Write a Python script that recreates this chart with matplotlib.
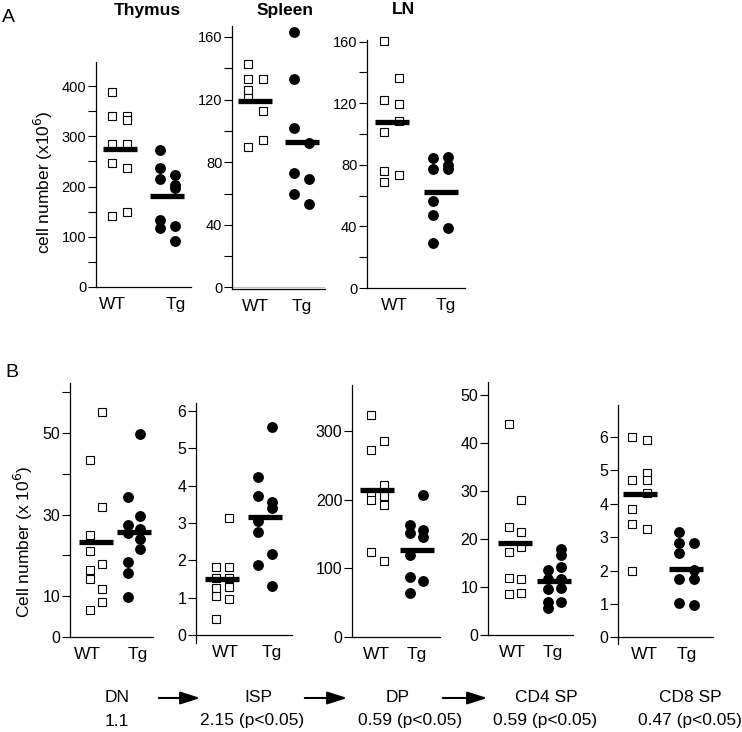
'''
cell number dot plots, panels A and B
'''
import matplotlib
matplotlib.use('Agg')
import matplotlib.pyplot as plt
from matplotlib.ticker import FixedLocator
import numpy as np

plt.rcParams['font.family'] = ['Liberation Sans', 'DejaVu Sans']

# ---- data (two columns of points per group, as drawn) ----
groups = ['WT', 'Tg']

thymus_wt = [[388, 340, 284, 246, 141], [340, 332, 284, 236, 150]]
thymus_tg = [[272, 237, 215, 133, 118], [223, 204, 197, 122, 91]]
thymus_mean = [274, 181]

spleen_wt = [[143, 133, 126, 121, 90], [133, 113, 94]]
spleen_tg = [[163, 133, 102, 73, 60], [92, 69, 53]]
spleen_mean = [119, 93]

ln_wt = [[160.6, 122, 101, 76, 69], [136.6, 119.4, 108.6, 73.5]]
ln_tg = [[84.5, 77.4, 56.3, 47.7, 29.5], [85, 80, 77.4, 39.1]]
ln_mean = [107.5, 62]

dn_wt = [[43.3, 25, 21, 16.5, 14.2, 6.5], [55.2, 32, 18, 11.8, 8.5]]
dn_tg = [[34.3, 27.4, 25.5, 18.3, 15.6, 9.8], [49.8, 29.6, 26.5, 24.1, 21.5]]
dn_mean = [23.3, 25.8]

isp_wt = [[1.81, 1.52, 1.27, 1.04, 0.43], [3.12, 1.81, 1.52, 1.28, 0.97]]
isp_tg = [[4.23, 3.72, 3.05, 2.75, 1.87], [5.57, 3.56, 3.39, 2.18, 1.32]]
isp_mean = [1.49, 3.16]

dp_wt = [[324, 273, 209, 200, 124], [285, 221, 206, 192, 111]]
dp_tg = [[163, 152, 120, 87, 64], [207, 156, 145, 82]]
dp_mean = [214, 127]

cd4_wt = [[44, 22.6, 17.2, 11.8, 8.5], [28.1, 21.4, 18.4, 11.6, 8.7]]
cd4_tg = [[13.5, 11.6, 9.5, 6.9, 5.7], [18, 16.7, 14.1, 11.6, 9.7, 6.9]]
cd4_mean = [19.2, 11.3]

cd8_wt = [[6.0, 4.7, 3.85, 3.4, 2.0], [5.92, 4.92, 4.72, 4.32, 3.24]]
cd8_tg = [[3.17, 2.82, 2.54, 1.74, 1.04], [2.84, 2.02, 1.74, 0.97]]
cd8_mean = [4.3, 2.05]

titles_a = ['Thymus', 'Spleen', 'LN']
stages = ['DN', 'ISP', 'DP', 'CD4 SP', 'CD8 SP']
ratios = ['1.1', '2.15 (p<0.05)', '0.59 (p<0.05)', '0.59 (p<0.05)', '0.47 (p<0.05)']

# ---- figure ----
FW, FH = 742, 732
fig = plt.figure(figsize=(FW / 100, FH / 100), dpi=100)


def addax(L, R, T, B):
    # pixel box -> figure axes
    return fig.add_axes([L / FW, 1 - B / FH, (R - L) / FW, (B - T) / FH])


def panel(ax, wt, tg, mean, ylim, major, minor=None,
          xlim=(0.5, 2.5), xlab=(1, 2), fs=10.5, zero_spine=False):
    dx = 0.16
    for col, off in zip(wt, (-dx, dx)):
        ax.plot(np.full(len(col), 1 + off), col, 's', ms=5.4, mfc='white',
                mec='black', mew=0.8, clip_on=False, zorder=3)
    for col, off in zip(tg, (-dx, dx)):
        ax.plot(np.full(len(col), 2 + off), col, 'o', ms=6.8, color='black',
                clip_on=False, zorder=3)
    ax.plot([1, 2], mean, '_', ms=25, mew=3.8, color='black', zorder=4)
    ax.set_xlim(*xlim)
    ax.set_ylim(*ylim)
    for s in ['top', 'right']:
        ax.spines[s].set_visible(False)
    for s in ['left', 'bottom']:
        ax.spines[s].set_linewidth(0.9)
    if zero_spine:
        ax.spines['bottom'].set_position(('data', 0))
    ax.yaxis.set_major_locator(FixedLocator(major))
    if minor is not None:
        ax.yaxis.set_minor_locator(FixedLocator(minor))
    ax.tick_params(axis='y', which='both', direction='out', length=6,
                   width=0.8, labelsize=fs, pad=1)
    ax.set_xticks(xlab)
    ax.set_xticklabels(groups)
    ax.tick_params(axis='x', length=0, labelsize=12.5, pad=7)


# panel A
ax = addax(96, 191, 62, 287)
panel(ax, thymus_wt, thymus_tg, thymus_mean, (0, 448), [0, 100, 200, 300, 400],
      minor=[50, 150, 250, 350], xlab=(0.85, 2.17))
ax = addax(232, 325, 26, 289)
panel(ax, spleen_wt, spleen_tg, spleen_mean, (-1, 167), [0, 40, 80, 120, 160],
      minor=[20, 60, 100, 140], xlab=(1.0, 2.0))
ax.axhline(0, color='0.75', lw=0.8, zorder=1)
ax = addax(367, 465, 40, 288)
panel(ax, ln_wt, ln_tg, ln_mean, (0, 161), [0, 40, 80, 120, 160],
      minor=[20, 60, 100, 140], xlab=(1.06, 2.1))

for name, x in zip(titles_a, [147, 285, 403]):
    fig.text(x / FW, 1 - 10 / FH, name, ha='center', va='center',
             fontsize=12.5, fontweight='bold')
fig.text(2 / FW, 1 - 17 / FH, 'A', ha='left', va='center', fontsize=14)
fig.text(43 / FW, 1 - 182 / FH, 'cell number (x10$^6$)', rotation=90,
         ha='center', va='center', fontsize=12.5)

# panel B
ax = addax(70, 153, 383, 637)
panel(ax, dn_wt, dn_tg, dn_mean, (0, 62.3), [0, 10, 30, 50],
      minor=[20, 40, 60], xlim=(0.33, 2.5), xlab=(0.78, 2.09), fs=11.5)
ax = addax(196, 292, 403, 642.5)
panel(ax, isp_wt, isp_tg, isp_mean, (-0.2, 6.21), [0, 1, 2, 3, 4, 5, 6],
      xlim=(0.38, 2.63), xlab=(1.08, 2.16), fs=11.5, zero_spine=True)
ax = addax(352, 440, 385, 637)
panel(ax, dp_wt, dp_tg, dp_mean, (0, 367), [0, 100, 200, 300],
      xlim=(0.35, 2.6), xlab=(0.97, 2.0), fs=11.5)
ax = addax(488, 573, 382, 635)
panel(ax, cd4_wt, cd4_tg, cd4_mean, (0, 52.7), [0, 10, 20, 30, 40, 50],
      xlim=(0.32, 2.47), xlab=(0.95, 1.97), fs=11.5)
ax = addax(618, 713, 405, 644)
panel(ax, cd8_wt, cd8_tg, cd8_mean, (-0.2, 6.96), [0, 1, 2, 3, 4, 5, 6],
      xlim=(0.53, 2.57), xlab=(1.1, 2.0), fs=11.5, zero_spine=True)

fig.text(5 / FW, 1 - 373 / FH, 'B', ha='left', va='center', fontsize=14)
fig.text(23 / FW, 1 - 542 / FH, 'Cell number (x 10$^6$)', rotation=90,
         ha='center', va='center', fontsize=12.5)

for name, r, x, xr in zip(stages, ratios, [117, 258, 398, 546, 690],
                          [117, 252, 410, 545, 690]):
    fig.text(x / FW, 1 - 697 / FH, name, ha='center', va='center', fontsize=12.5)
    fig.text(xr / FW, 1 - 721 / FH, r, ha='center', va='center', fontsize=12.5)

for x0, x1 in [(156, 203), (302, 350), (440, 490)]:
    fig.patches.append(matplotlib.patches.FancyArrowPatch(
        (x0 / FW, 1 - 698 / FH), (x1 / FW, 1 - 698 / FH),
        transform=fig.transFigure,
        arrowstyle='-|>,head_length=0.5,head_width=0.16', mutation_scale=24,
        lw=1.5, color='black'))

fig.savefig('out.png', dpi=100)
